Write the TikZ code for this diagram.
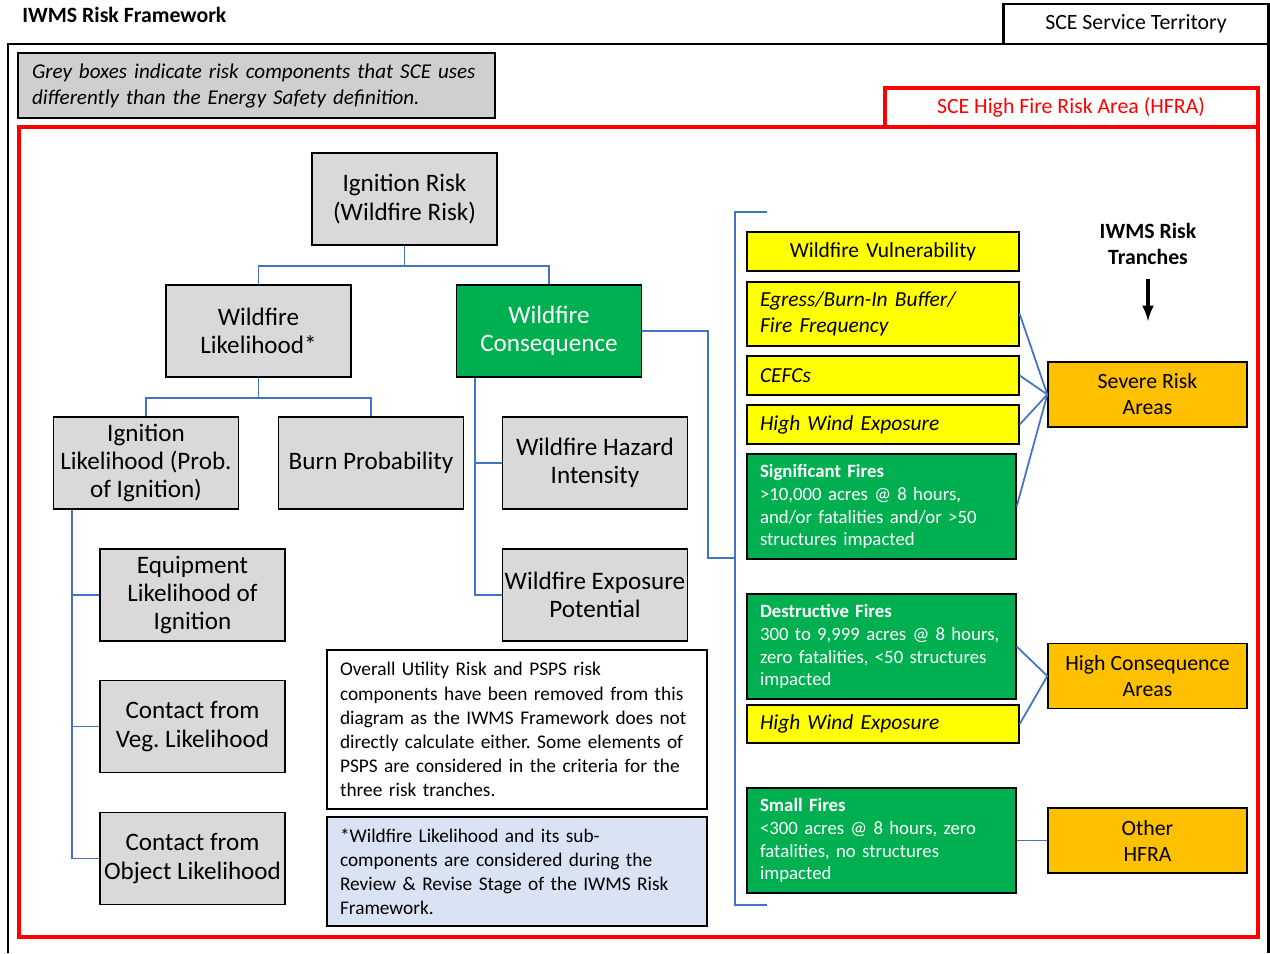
\documentclass[tikz,border=0pt]{standalone}
\usepackage{fontspec}
\setmainfont{Carlito}
\usepackage{tikz}
\usetikzlibrary{calc}
\frenchspacing

\definecolor{boxgray}{RGB}{217,217,217}
\definecolor{legendgray}{RGB}{208,206,206}
\definecolor{firegreen}{RGB}{0,176,80}
\definecolor{factoryellow}{RGB}{255,255,0}
\definecolor{trancheorange}{RGB}{255,192,0}
\definecolor{linkblue}{RGB}{68,114,196}
\definecolor{noteblue}{RGB}{218,227,243}
\definecolor{hfrared}{RGB}{255,0,0}

\tikzset{
  treebox/.style={draw, line width=0.8pt, fill=boxgray, minimum width=3.7cm,
    minimum height=1.84cm, align=center, inner sep=1pt,
    font=\fontsize{14.3}{16}\selectfont},
  consbox/.style={treebox, fill=firegreen, text=white},
  factorbox/.style={draw, line width=0.8pt, fill=factoryellow, text width=4.92cm,
    inner xsep=0.26cm, inner ysep=0pt, align=left,
    font=\fontsize{12.2}{14.8}\selectfont\itshape},
  firebox/.style={draw, line width=0.8pt, fill=firegreen, text=white,
    text width=4.86cm, inner xsep=0.26cm, minimum height=2.1cm, align=left,
    font=\fontsize{10.7}{13}\selectfont},
  tranchebox/.style={draw, line width=0.8pt, fill=trancheorange,
    minimum width=3.98cm, minimum height=1.3cm, align=center,
    font=\fontsize{12.4}{14.8}\selectfont},
  notebox/.style={draw, line width=0.8pt, text width=7.08cm, inner xsep=0.26cm,
    align=left, font=\fontsize{11}{13.7}\selectfont},
  link/.style={draw=linkblue, line width=1pt}
}

\begin{document}
\begin{tikzpicture}[x=0.02cm, y=-0.02cm]
  \useasboundingbox (0,0) rectangle (1270,953);

  % Service territory frame
  \draw [line width=1.7pt] (8,953) -- (8,44) -- (1268,44) -- (1268,953);
  \draw [line width=1.7pt] (1003,44) -- (1003,4) -- (1268,4) -- (1268,44);
  \node (title) [anchor=west, inner sep=0, font=\fontsize{12.4}{14}\selectfont\bfseries]
    at (22,15) {IWMS Risk Framework};
  \node (territory) [font=\fontsize{12.4}{14}\selectfont] at (1136,24) {SCE Service Territory};

  % Legend
  \node (legend) [draw, line width=0.8pt, fill=legendgray, text width=8.98cm,
    inner xsep=0.28cm, minimum height=1.3cm, align=left,
    font=\fontsize{12}{14.8}\selectfont\itshape] at (256.5,85.5)
    {Grey boxes indicate risk components that SCE uses\\differently than the Energy Safety definition.};

  % HFRA frame
  \draw [hfrared, line width=2pt] (19,127) rectangle (1258,937);
  \draw [hfrared, line width=2pt] (885,127) -- (885,88) -- (1258,88) -- (1258,127);
  \node (hfra) [text=hfrared, font=\fontsize{12.4}{14}\selectfont] at (1071,107)
    {SCE High Fire Risk Area (HFRA)};

  % Risk tree
  \node (ign) [treebox] at (404.5,199) {Ignition Risk\\(Wildfire Risk)};
  \node (wlik) [treebox] at (258.5,331) {Wildfire\\Likelihood*};
  \node (wcon) [consbox] at (549,331) {Wildfire\\Consequence};
  \node (iglik) [treebox] at (146,463) {Ignition\\Likelihood (Prob.\\of Ignition)};
  \node (burn) [treebox] at (371,463) {Burn Probability};
  \node (haz) [treebox] at (595,463) {Wildfire Hazard\\Intensity};
  \node (expo) [treebox] at (595,595) {Wildfire Exposure\\Potential};
  \node (equip) [treebox] at (192.5,595) {Equipment\\Likelihood of\\Ignition};
  \node (veg) [treebox] at (192.5,726.5) {Contact from\\Veg. Likelihood};
  \node (obj) [treebox] at (192.5,858.5) {Contact from\\Object Likelihood};

  \draw [link] (ign.south) -- ++(0,20) -| (wlik.north);
  \draw [link] (ign.south) -- ++(0,20) -| (wcon.north);
  \draw [link] (wlik.south) -- ++(0,20) -| (iglik.north);
  \draw [link] (wlik.south) -- ++(0,20) -| (burn.north);
  \draw [link] ($(wcon.south west)+(19,0)$) |- (haz.west);
  \draw [link] ($(wcon.south west)+(19,0)$) |- (expo.west);
  \draw [link] ($(iglik.south west)+(19,0)$) |- (equip.west);
  \draw [link] ($(iglik.south west)+(19,0)$) |- (veg.west);
  \draw [link] ($(iglik.south west)+(19,0)$) |- (obj.west);

  % Notes
  \node (utilnote) [notebox, minimum height=3.18cm] at (517,729.5)
    {Overall Utility Risk and PSPS risk\\components have been removed from this\\diagram as the IWMS Framework does not\\directly calculate either. Some elements of\\PSPS are considered in the criteria for the\\three risk tranches.};
  \node (likenote) [notebox, fill=noteblue, minimum height=2.18cm] at (517,871.5)
    {*Wildfire Likelihood and its sub-\\components are considered during the\\Review \& Revise Stage of the IWMS Risk\\Framework.};

  % Consequence bracket
  \coordinate (brktop) at (767,212);
  \coordinate (brkbot) at (767,905);
  \coordinate (brk) at (735,558);
  \draw [link] (brktop) -- (735,212) -- (735,905) -- (brkbot);
  \draw [link] (wcon.east) -- ++(66,0) |- (brk);

  % Risk factors
  \node (vul) [factorbox, minimum height=0.78cm, align=center,
    font=\fontsize{12.2}{14.8}\selectfont] at (883,251.5) {Wildfire Vulnerability};
  \node (egr) [factorbox, minimum height=1.28cm] at (883,314)
    {Egress/Burn-In Buffer/\\Fire Frequency};
  \node (cefc) [factorbox, minimum height=0.78cm] at (883,375.5) {CEFCs};
  \node (hweA) [factorbox, minimum height=0.78cm] at (883,424.5) {High Wind Exposure};
  \node (sig) [firebox] at (881.5,506.5)
    {\textbf{Significant Fires}\\>10,000 acres @ 8 hours,\\and/or fatalities and/or >50\\structures impacted};
  \node (des) [firebox] at (881.5,646.5)
    {\textbf{Destructive Fires}\\300 to 9,999 acres @ 8 hours,\\zero fatalities, <50 structures\\impacted};
  \node (hweB) [factorbox, minimum height=0.76cm] at (883,724) {High Wind Exposure};
  \node (small) [firebox] at (881.5,840.5)
    {\textbf{Small Fires}\\<300 acres @ 8 hours, zero\\fatalities, no structures\\impacted};

  % Tranches
  \node (tranches) [align=center, font=\fontsize{12.4}{14.8}\selectfont\bfseries]
    at (1148,244) {IWMS Risk\\Tranches};
  \coordinate (tranchetip) at (1148,321);
  \draw [-latex, line width=2pt] ([yshift=-0.16cm]tranches.south) -- (tranchetip);
  \node (sev) [tranchebox] at (1147.5,394.5) {Severe Risk\\Areas};
  \node (hca) [tranchebox] at (1147.5,676) {High Consequence\\Areas};
  \node (oth) [tranchebox] at (1147.5,840.5) {Other\\HFRA};

  \draw [link] (egr.east) -- (sev.west);
  \draw [link] (cefc.east) -- (sev.west);
  \draw [link] (hweA.east) -- (sev.west);
  \draw [link] (sig.east) -- (sev.west);
  \draw [link] (des.east) -- (hca.west);
  \draw [link] (hweB.east) -- (hca.west);
  \draw [link] (small.east) -- (oth.west);
\end{tikzpicture}
\end{document}
